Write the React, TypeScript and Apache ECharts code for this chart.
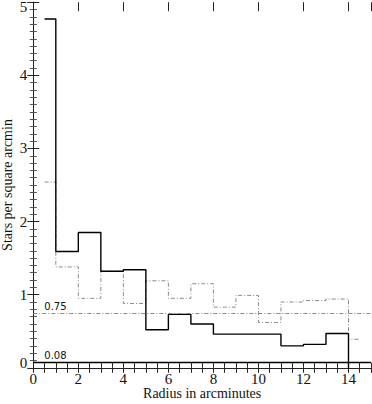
import React, { useEffect, useRef } from "react";
import * as echarts from "echarts";

// Bin centres (arcmin) and densities (stars per square arcmin)
const radius = [0.5, 1.5, 2.5, 3.5, 4.5, 5.5, 6.5, 7.5, 8.5, 9.5, 10.5, 11.5, 12.5, 13.5, 14.5];
const clusterDensity = [4.77, 1.59, 1.85, 1.32, 1.34, 0.52, 0.73, 0.6, 0.46, 0.46, 0.46, 0.3, 0.32, 0.47, -0.05];
const fieldDensity = [2.54, 1.38, 0.95, 1.32, 0.88, 1.19, 0.95, 1.15, 0.83, 0.99, 0.62, 0.9, 0.92, 0.94, 0.39];
const fieldLevel = 0.75;
const residualLevel = 0.08;
const xTitle = "Radius in arcminutes";
const yTitle = "Stars per square arcmin";

const serif = "'Liberation Serif', 'DejaVu Serif', serif";
const axisColor = "#222";

export default function App() {
  const ref = useRef<HTMLDivElement>(null);
  useEffect(() => {
    if (!ref.current) return;
    const chart = echarts.init(ref.current, null, { renderer: "svg" });
    const grid = { left: 33.3, right: 1, top: 2.2, bottom: 36.2, containLabel: false, outerBoundsMode: "none" };
    const baseX = {
      type: "value",
      min: 0,
      max: 15,
      interval: 0.5,
      splitLine: { show: false },
      axisLine: { show: true, lineStyle: { color: axisColor, width: 1 } },
      axisTick: { show: true, inside: true, length: 5, lineStyle: { color: axisColor } },
    };
    const baseY = {
      type: "value",
      min: 0,
      max: 5,
      interval: 1,
      splitLine: { show: false },
      axisLine: { show: true, lineStyle: { color: axisColor, width: 1 } },
      axisTick: { show: true, inside: true, length: 6, lineStyle: { color: axisColor } },
      minorTick: { show: true, splitNumber: 10, length: 3.5, lineStyle: { color: "#555" } },
    };
    const option = {
      animation: false,
      grid,
      xAxis: [
        {
          ...baseX,
          position: "bottom",
          name: xTitle,
          nameLocation: "middle",
          nameGap: 19,
          nameMoveOverlap: false,
          nameTextStyle: { fontFamily: serif, fontSize: 14, color: "#111" },
          axisLabel: {
            show: true,
            margin: 4,
            fontFamily: serif,
            fontSize: 15,
            color: "#111",
            formatter: (v: number) => (v % 2 === 0 && v < 15 ? String(v) : ""),
          },
        },
        { ...baseX, position: "top", axisLabel: { show: false } },
        {
          ...baseX,
          position: "top",
          interval: 2,
          axisLine: { show: false },
          axisTick: { show: true, inside: true, length: 9, lineStyle: { color: axisColor } },
          axisLabel: { show: false },
        },
      ],
      yAxis: [
        {
          ...baseY,
          position: "left",
          name: yTitle,
          nameLocation: "middle",
          nameGap: 19,
          nameRotate: 90,
          nameMoveOverlap: false,
          nameTextStyle: { fontFamily: serif, fontSize: 14, color: "#111" },
          axisLabel: {
            show: true,
            margin: 6,
            fontFamily: serif,
            fontSize: 15,
            color: "#111",
            formatter: (v: number) => (v === 0 ? "{lo|0}" : v === 5 ? "{hi|5}" : String(v)),
            rich: {
              lo: { fontFamily: serif, fontSize: 15, color: "#111", padding: [0, 0, 10, 0] },
              hi: { fontFamily: serif, fontSize: 15, color: "#111", padding: [10, 0, 0, 0] },
            },
          },
        },
        { ...baseY, position: "right", axisLabel: { show: false } },
      ],
      series: [
        {
          type: "line",
          step: "middle",
          xAxisIndex: 0,
          yAxisIndex: 0,
          data: radius.map((x, i) => [x, fieldDensity[i]]),
          showSymbol: false,
          symbol: "none",
          silent: true,
          lineStyle: { color: "#8a8a8a", width: 1, type: [4, 2, 1, 2] },
          markLine: {
            silent: true,
            symbol: ["none", "none"],
            data: [{ yAxis: fieldLevel }],
            lineStyle: { color: "#8a8a8a", width: 1, type: [4, 2, 1, 2] },
            label: {
              show: true,
              position: "insideStartTop",
              distance: [11, 1],
              formatter: String(fieldLevel),
              fontFamily: "'DejaVu Sans', sans-serif",
              fontSize: 10,
              color: "#111",
            },
          },
        },
        {
          type: "line",
          step: "middle",
          xAxisIndex: 0,
          yAxisIndex: 0,
          data: radius.map((x, i) => [x, clusterDensity[i]]),
          showSymbol: false,
          symbol: "none",
          silent: true,
          lineStyle: { color: "#000", width: 1.4 },
          markLine: {
            silent: true,
            symbol: ["none", "none"],
            data: [{ yAxis: residualLevel }],
            lineStyle: { color: "#000", width: 1.3, type: "solid" },
            label: {
              show: true,
              position: "insideStartTop",
              distance: [11, 1],
              formatter: residualLevel.toFixed(2),
              fontFamily: "'DejaVu Sans', sans-serif",
              fontSize: 10,
              color: "#111",
            },
          },
        },
      ],
    };
    chart.setOption(option as any);
    return () => chart.dispose();
  }, []);
  return (
    <div
      ref={ref}
      style={{ position: "fixed", left: 0, top: 0, width: 372, height: 404, background: "#fff" }}
    />
  );
}
